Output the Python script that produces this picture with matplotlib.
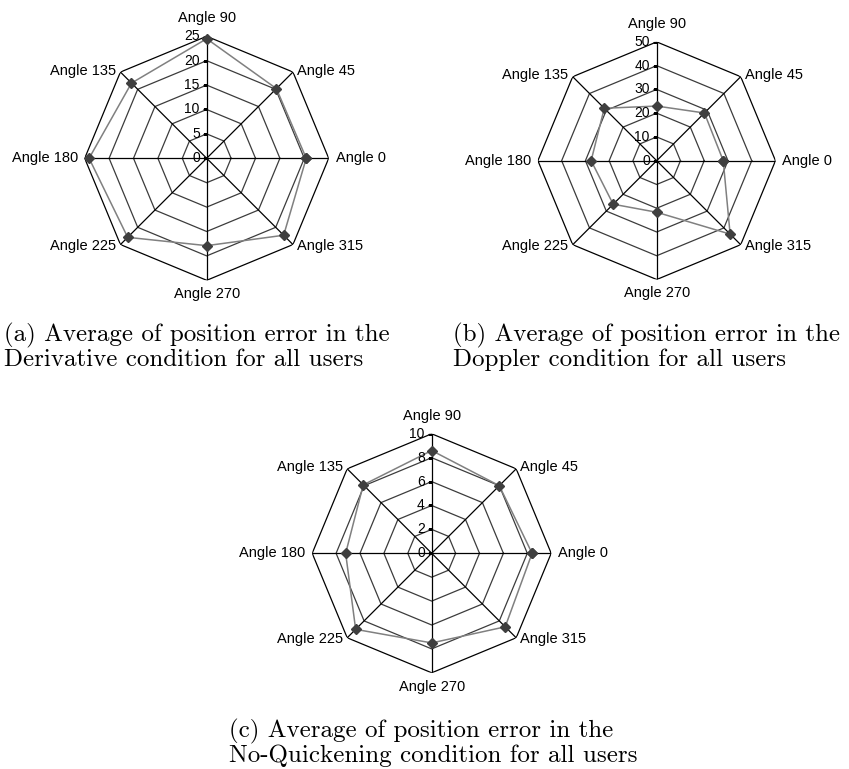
import numpy as np
import matplotlib
matplotlib.use('Agg')
import matplotlib.pyplot as plt

# angles in degrees, order of the spokes
angles = [0, 45, 90, 135, 180, 225, 270, 315]
angle_labels = ['Angle 0', 'Angle 45', 'Angle 90', 'Angle 135',
                'Angle 180', 'Angle 225', 'Angle 270', 'Angle 315']

# average position error per angle
derivative = [20.4, 20.2, 24.5, 21.8, 24.1, 22.9, 17.9, 22.3]
doppler = [28.0, 28.4, 23.0, 31.2, 27.6, 25.9, 21.7, 43.7]
no_quick = [8.4, 8.0, 8.6, 8.1, 7.2, 9.0, 7.5, 8.7]

ticks_a = [0, 5, 10, 15, 20, 25]
ticks_b = [0, 10, 20, 30, 40, 50]
ticks_c = [0, 2, 4, 6, 8, 10]

captions = [
    ['(a) Average of position error in the', 'Derivative condition for all users'],
    ['(b) Average of position error in the', 'Doppler condition for all users'],
    ['(c) Average of position error in the', 'No-Quickening condition for all users'],
]

W, H = 849, 769
fig = plt.figure(figsize=(W / 100, H / 100), dpi=100)
lab_font = 'Liberation Sans'


def radar(cx, cy, R, vals, ticks):
    ax = fig.add_axes([(cx - R) / W, 1 - (cy + R) / H, 2 * R / W, 2 * R / H],
                      projection='polar')
    ax.set_axis_off()
    rmax = ticks[-1]
    ax.set_ylim(0, rmax)
    th = np.deg2rad(angles)
    thc = np.append(th, th[0])
    # rings
    for lv in ticks[1:]:
        col = 'black' if lv == rmax else '#3c3c3c'
        ax.plot(thc, [lv] * len(thc), color=col, lw=0.9)
    # spokes
    for t in th:
        ax.plot([t, t], [0, rmax], color='black', lw=0.9)
    # tick marks + labels on the vertical axis
    for lv in ticks:
        ax.plot([np.pi / 2], [lv], marker=0, ms=3, color='black', mew=0.9)
        ax.annotate(str(lv), (np.pi / 2, lv), xytext=(-5, 0),
                    textcoords='offset points', ha='right', va='center',
                    fontsize=10, family=lab_font, annotation_clip=False)
    # data
    v = np.append(vals, vals[0])
    ax.plot(thc, v, color='#808080', lw=1.1, marker='D', ms=5,
            mfc='#3f3f3f', mec='#3f3f3f', clip_on=False)
    # angle labels
    for t, a, name in zip(th, angles, angle_labels):
        c, s = np.cos(t), np.sin(t)
        if a == 90:
            off, ha, va = (0, 8), 'center', 'bottom'
        elif a == 270:
            off, ha, va = (0, -5), 'center', 'top'
        else:
            ha = 'left' if c > 0 else 'right'
            va = 'center'
            dx = 5 if abs(s) < 0.1 else 3
            off = (dx * np.sign(c), 1 if s > 0.1 else (-1 if s < -0.1 else 0))
        ax.annotate(name, (t, rmax), xytext=off, textcoords='offset points',
                    ha=ha, va=va, fontsize=10.5, family=lab_font,
                    annotation_clip=False)
    return ax


radar(206.7, 158.3, 122, derivative, ticks_a)
radar(656.7, 160.7, 118.8, doppler, ticks_b)
radar(431.7, 553.3, 119.5, no_quick, ticks_c)

cap_pos = [(4, 341.7), (453, 341.7), (229, 737.7)]
for (x, y), lines in zip(cap_pos, captions):
    fig.text(x / W, 1 - y / H, lines[0], family='cmr10', fontsize=18,
             ha='left', va='baseline')
    fig.text(x / W, 1 - (y + 24) / H, lines[1], family='cmr10', fontsize=18,
             ha='left', va='baseline')

fig.savefig('out.png', dpi=100)
